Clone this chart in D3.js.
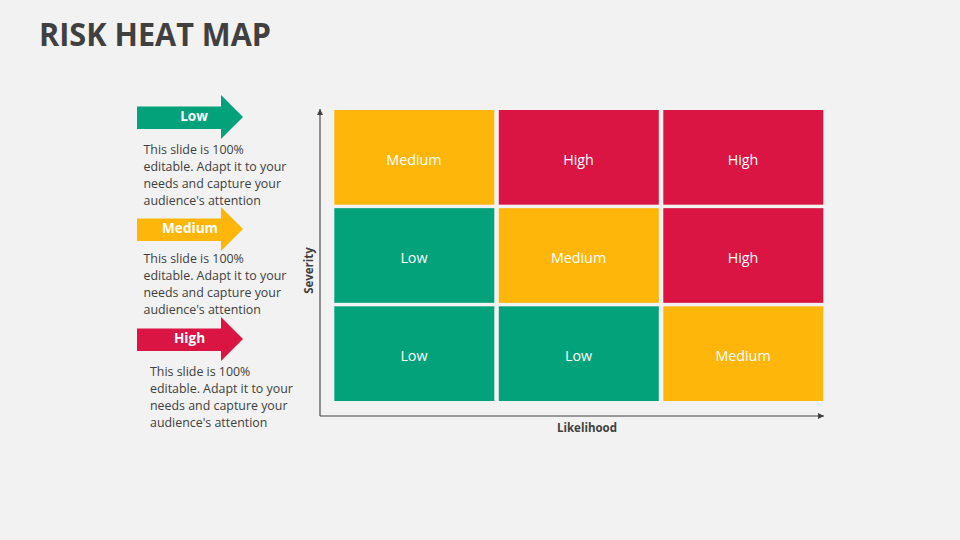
<!DOCTYPE html>
<html><head><meta charset="utf-8">
<script src="https://cdn.jsdelivr.net/npm/d3@7/dist/d3.min.js"></script>
<style>html,body{margin:0;padding:0;background:#f2f2f2}svg{display:block}text{font-family:"Open Sans",sans-serif}</style>
</head><body><svg id="c" width="960" height="540"></svg>
<script>
const titleText = "RISK HEAT MAP";
const likelihood = ["L1","L2","L3"];
const severity = ["S1","S2","S3"];
const levels = ["Low","Medium","High"];
const levelColors = ["#04a27a","#ffb60b","#da1443"];
const grid = [
  ["Low","Low","Medium"],
  ["Low","Medium","High"],
  ["Medium","High","High"]
];
const legendLines = ["This slide is 100%","editable. Adapt it to your","needs and capture your","audience's attention"];
const legendTop = [95,207,317];
const legendTextX = [143.5,143.5,150];
const legendTextY = [154,263,376];
const axisX = "Likelihood", axisY = "Severity";

const svg = d3.select("#c");
const color = d3.scaleOrdinal(levels, levelColors);
const x = d3.scaleBand(likelihood,[334,823]).paddingInner(0.0274);
const y = d3.scaleBand(severity,[401,110]).paddingInner(0.0355);
const ink = "#404040";

svg.append("text").attr("x",39).attr("y",46).attr("fill",ink)
  .attr("font-size",31.5).attr("font-weight",700).attr("textLength",232).attr("lengthAdjust","spacingAndGlyphs").text(titleText);

// cells
const cells = grid.flatMap((row,r)=>row.map((v,c)=>({r,c,v})));
svg.append("g").selectAll("rect").data(cells).join("rect")
  .attr("x",d=>x(likelihood[d.c])+0.3).attr("y",d=>y(severity[d.r]))
  .attr("width",x.bandwidth()).attr("height",y.bandwidth())
  .attr("fill",d=>color(d.v));
svg.append("g").selectAll("text").data(cells).join("text")
  .attr("x",d=>x(likelihood[d.c])+x.bandwidth()/2)
  .attr("y",d=>y(severity[d.r])+y.bandwidth()/2+7.8)
  .attr("text-anchor","middle").attr("fill","#fff").attr("font-size",14.3).attr("font-weight",500)
  .text(d=>d.v);

// axes
const defs = svg.append("defs");
defs.append("marker").attr("id","ah").attr("viewBox","0 0 6 6").attr("refX",6).attr("refY",3)
  .attr("markerWidth",6).attr("markerHeight",6).attr("markerUnits","userSpaceOnUse").attr("orient","auto")
  .append("path").attr("d","M0,0L6,3L0,6Z").attr("fill",ink);
const line = d3.line();
svg.append("path").attr("d",line([[320,416],[320,109]])).attr("stroke",ink).attr("stroke-width",1.1).attr("fill","none").attr("marker-end","url(#ah)");
svg.append("path").attr("d",line([[320,416],[824,416]])).attr("stroke",ink).attr("stroke-width",1.1).attr("fill","none").attr("marker-end","url(#ah)");
svg.append("text").attr("x",587).attr("y",432).attr("text-anchor","middle").attr("fill",ink).attr("font-size",11.5).attr("font-weight",700).text(axisX);
svg.append("text").attr("transform","translate(313,270.5) rotate(-90)").attr("text-anchor","middle").attr("fill",ink).attr("font-size",11.5).attr("font-weight",700).text(axisY);

// legend
levels.forEach((lv,i)=>{
  const t = legendTop[i];
  const g = svg.append("g");
  g.append("path").attr("d",line([[137,t+11.5],[221,t+11.5],[221,t],[243,t+22],[221,t+44],[221,t+34],[137,t+34]])+"Z").attr("fill",color(lv));
  g.append("text").attr("x",i===0?194:i===1?190:189.5).attr("y",t+26).attr("text-anchor","middle").attr("fill","#fff").attr("font-size",13.6).attr("font-weight",700).text(lv);
  g.append("text").selectAll("tspan").data(legendLines).join("tspan")
    .attr("x",legendTextX[i]).attr("y",(d,k)=>legendTextY[i]+k*17)
    .attr("fill",ink).attr("font-size",12.4).text(d=>d);
});
</script></body></html>
